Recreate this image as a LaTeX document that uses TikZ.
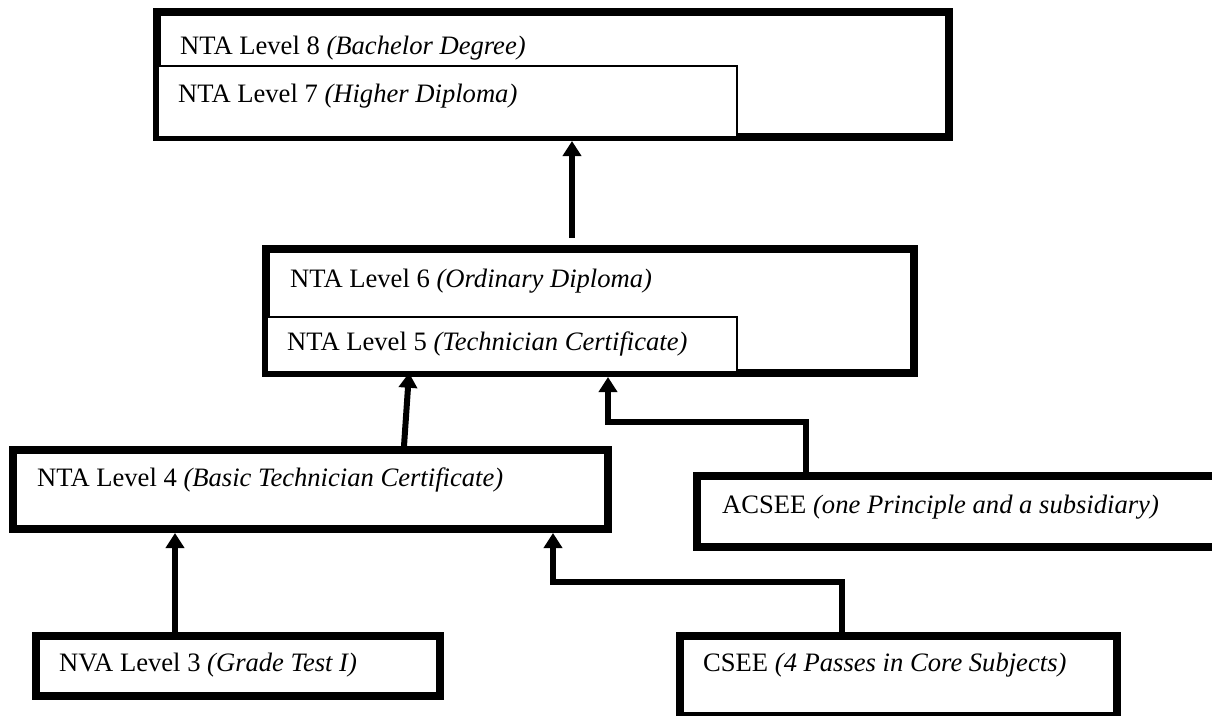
\documentclass[tikz,border=0pt]{standalone}
\usepackage{fontspec}
\setmainfont{Liberation Serif}
\usetikzlibrary{arrows.meta}
\newcommand\lvl[2]{#1 \textit{(#2)}}

\begin{document}
\begin{tikzpicture}[x=1pt,y=-1pt,
    bigbox/.style={draw,rectangle,line width=8pt,inner sep=0pt},
    subbox/.style={draw,rectangle,fill=white,line width=1.5pt,inner sep=0pt},
    lbl/.style={anchor=west,inner sep=0pt,font=\fontsize{26.6}{32}\selectfont},
    conn/.style={line width=6pt,-{Triangle[width=18pt,length=15pt]}}]
   \useasboundingbox (0,0) rectangle (1212,715);
   \clip (0,0) rectangle (1212,715);
   % the boxes
   \node[bigbox,minimum width=792pt,minimum height=125pt] (n_8) at (553,74.5) {};
   \node[subbox,minimum width=579pt,minimum height=71pt] (n_7) at (447.5,101.5) {};
   \node[bigbox,minimum width=648pt,minimum height=124pt] (n_6) at (590,311) {};
   \node[subbox,minimum width=470pt,minimum height=55pt] (n_5) at (502,344.5) {};
   \node[bigbox,minimum width=595pt,minimum height=79pt] (n_4) at (310.5,489.5) {};
   \node[bigbox,minimum width=520pt,minimum height=71pt] (acsee) at (957,511.5) {};
   \node[bigbox,minimum width=404pt,minimum height=60pt] (n_3) at (238,666) {};
   \node[bigbox,minimum width=437pt,minimum height=80pt] (csee) at (898.5,676) {};
   % the texts
   \node[lbl] (t_8) at (180,48) {\lvl{NTA Level 8}{Bachelor Degree}};
   \node[lbl] (t_7) at (178,96) {\lvl{NTA Level 7}{Higher Diploma}};
   \node[lbl] (t_6) at (290,281) {\lvl{NTA Level 6}{Ordinary Diploma}};
   \node[lbl] (t_5) at (287,344) {\lvl{NTA Level 5}{Technician Certificate}};
   \node[lbl] (t_4) at (37,480) {\lvl{NTA Level 4}{Basic Technician Certificate}};
   \node[lbl] (t_a) at (722,507) {\lvl{ACSEE}{one Principle and a subsidiary}};
   \node[lbl] (t_3) at (59,665) {\lvl{NVA Level 3}{Grade Test I}};
   \node[lbl] (t_c) at (703,665) {\lvl{CSEE}{4 Passes in Core Subjects}};
   % the arrows
   \coordinate (a_6) at (572,238);
   \draw[conn] (a_6) -- (a_6 |- n_8.south);
   \draw[conn] (404,0 |- n_4.north) -- (409,0 |- n_5.south);
   \draw[conn] (806,0 |- acsee.north) |- (608,422) -- (608,0 |- n_6.south);
   \draw[conn] (842,0 |- csee.north) |- (553,582) -- (553,0 |- n_4.south);
   \draw[conn] (175,0 |- n_3.north) -- (175,0 |- n_4.south);
\end{tikzpicture}
\end{document}
